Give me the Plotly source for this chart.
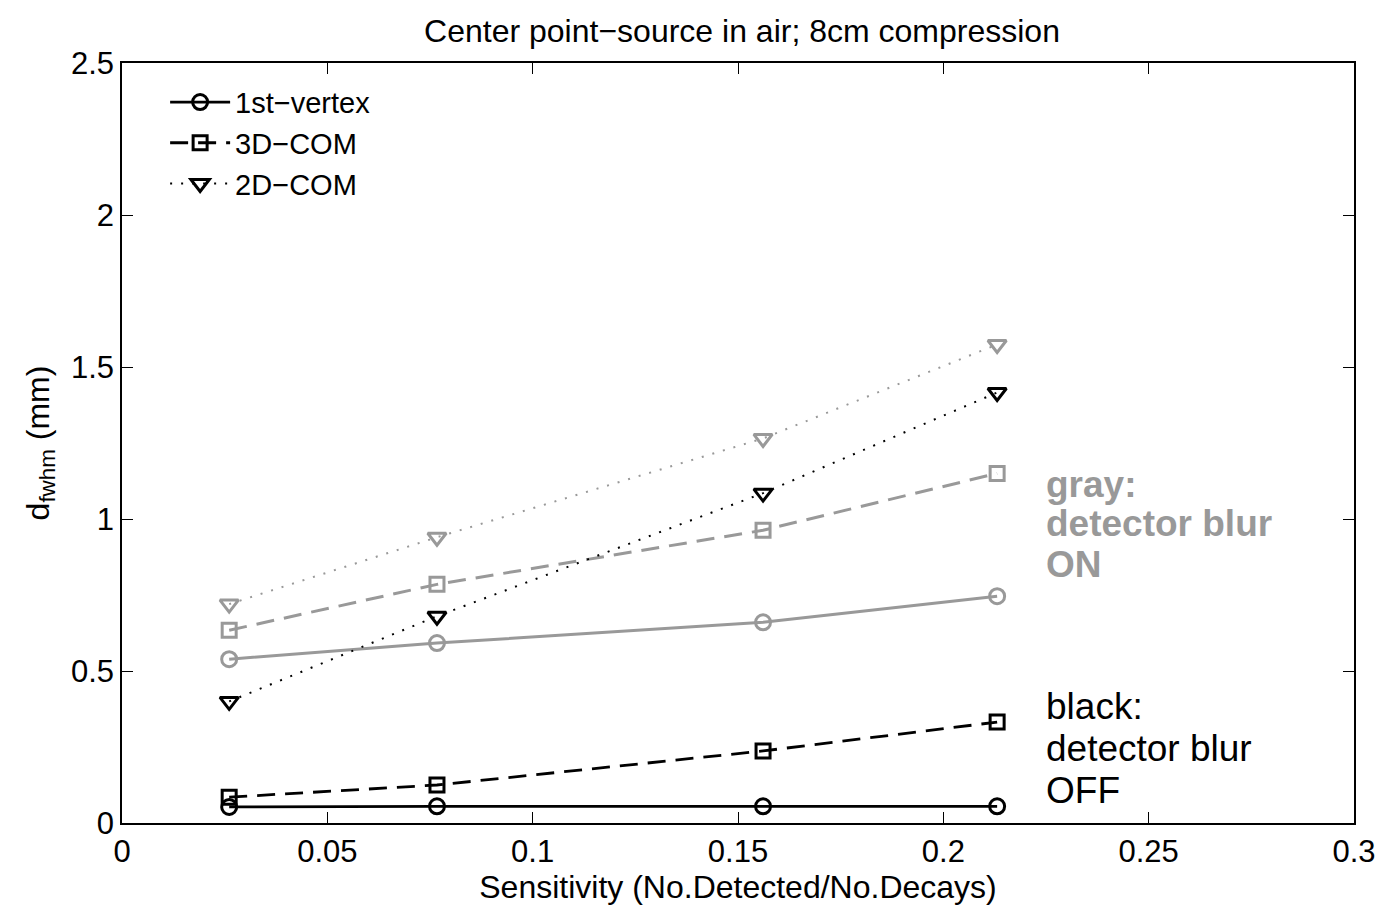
import plotly.graph_objects as go

# Data
sensitivity = [0.0261, 0.0767, 0.1561, 0.2131]

# detector blur OFF (black)
off_1st_vertex = [0.053, 0.055, 0.055, 0.055]
off_3d_com = [0.085, 0.125, 0.237, 0.332]
off_2d_com = [0.40, 0.68, 1.085, 1.416]

# detector blur ON (gray)
on_1st_vertex = [0.539, 0.592, 0.660, 0.746]
on_3d_com = [0.634, 0.785, 0.963, 1.150]
on_2d_com = [0.72, 0.94, 1.265, 1.574]

x_ticks = [0, 0.05, 0.1, 0.15, 0.2, 0.25, 0.3]
x_tick_labels = ["0", "0.05", "0.1", "0.15", "0.2", "0.25", "0.3"]
y_ticks = [0, 0.5, 1, 1.5, 2, 2.5]
y_tick_labels = ["0", "0.5", "1", "1.5", "2", "2.5"]

gray_note = ["gray:", "detector blur", "ON"]
gray_note_y = [1.114, 0.986, 0.851]
black_note = ["black:", "detector blur", "OFF"]
black_note_y = [0.384, 0.246, 0.108]
note_x = 0.2245

GRAY = "rgb(153,153,153)"
BLACK = "black"
FONT = "Liberation Sans, Arial, Helvetica, sans-serif"

DASH = "18px,10px"
DOT = "2px,9px"

fig = go.Figure()

def add(y, name, color, dash, symbol, msize, lw, show):
    fig.add_trace(go.Scatter(
        x=sensitivity, y=y, name=name, mode="lines+markers",
        line=dict(color=color, width=lw, dash=dash),
        marker=dict(symbol=symbol, size=msize, color=color,
                    line=dict(color=color, width=3)),
        showlegend=show,
    ))

# gray (ON) first so black draws on top
add(on_1st_vertex, "1st−vertex", GRAY, "solid", "circle-open", 15, 3, False)
add(on_3d_com, "3D−COM", GRAY, DASH, "square-open", 14, 3, False)
add(on_2d_com, "2D−COM", GRAY, DOT, "triangle-down-open", 16, 2, False)

add(off_1st_vertex, "1st−vertex", BLACK, "solid", "circle-open", 15, 2.8, True)
add(off_3d_com, "3D−COM", BLACK, DASH, "square-open", 14, 2.8, True)
add(off_2d_com, "2D−COM", BLACK, DOT, "triangle-down-open", 16, 2, True)

for txt, yy in zip(gray_note, gray_note_y):
    fig.add_annotation(
        x=note_x, y=yy, xref="x", yref="y", xanchor="left", yanchor="middle",
        text="<b>" + txt + "</b>", showarrow=False, align="left",
        font=dict(family=FONT, size=37, color=GRAY),
    )
for txt, yy in zip(black_note, black_note_y):
    fig.add_annotation(
        x=note_x, y=yy, xref="x", yref="y", xanchor="left", yanchor="middle",
        text=txt, showarrow=False, align="left",
        font=dict(family=FONT, size=37, color=BLACK),
    )

axis_common = dict(
    showline=True, linecolor="black", linewidth=1.5, mirror="ticks",
    ticks="inside", ticklen=11, tickwidth=1.2, tickcolor="black",
    showgrid=False, zeroline=False, ticklabeloverflow="allow",
    tickfont=dict(family=FONT, size=31, color="black"),
)

fig.update_layout(
    width=1388, height=905,
    paper_bgcolor="white", plot_bgcolor="white",
    margin=dict(l=122, r=26, t=63, b=81),
    font=dict(family=FONT, size=32, color="black"),
    title=dict(text="Center point−source in air; 8cm compression",
               x=(122 + 1362) / 2 / 1388, xanchor="center", y=0.966, yanchor="middle",
               font=dict(family=FONT, size=32, color="black")),
    xaxis=dict(range=[-1e-9, 0.3 + 1e-9], tickvals=x_ticks, ticktext=x_tick_labels,
               title=dict(text="Sensitivity (No.Detected/No.Decays)", standoff=2,
                          font=dict(family=FONT, size=32)),
               **axis_common),
    yaxis=dict(range=[-1e-9, 2.5 + 1e-9], tickvals=y_ticks, ticktext=y_tick_labels,
               title=dict(text="d<sub>fwhm</sub> (mm)", standoff=12,
                          font=dict(family=FONT, size=32)),
               **axis_common),
    legend=dict(x=0.035, y=0.982, xanchor="left", yanchor="top",
                bgcolor="rgba(0,0,0,0)", borderwidth=0,
                font=dict(family=FONT, size=29, color="black"),
                itemwidth=60),
)

fig.write_html("out.html")
